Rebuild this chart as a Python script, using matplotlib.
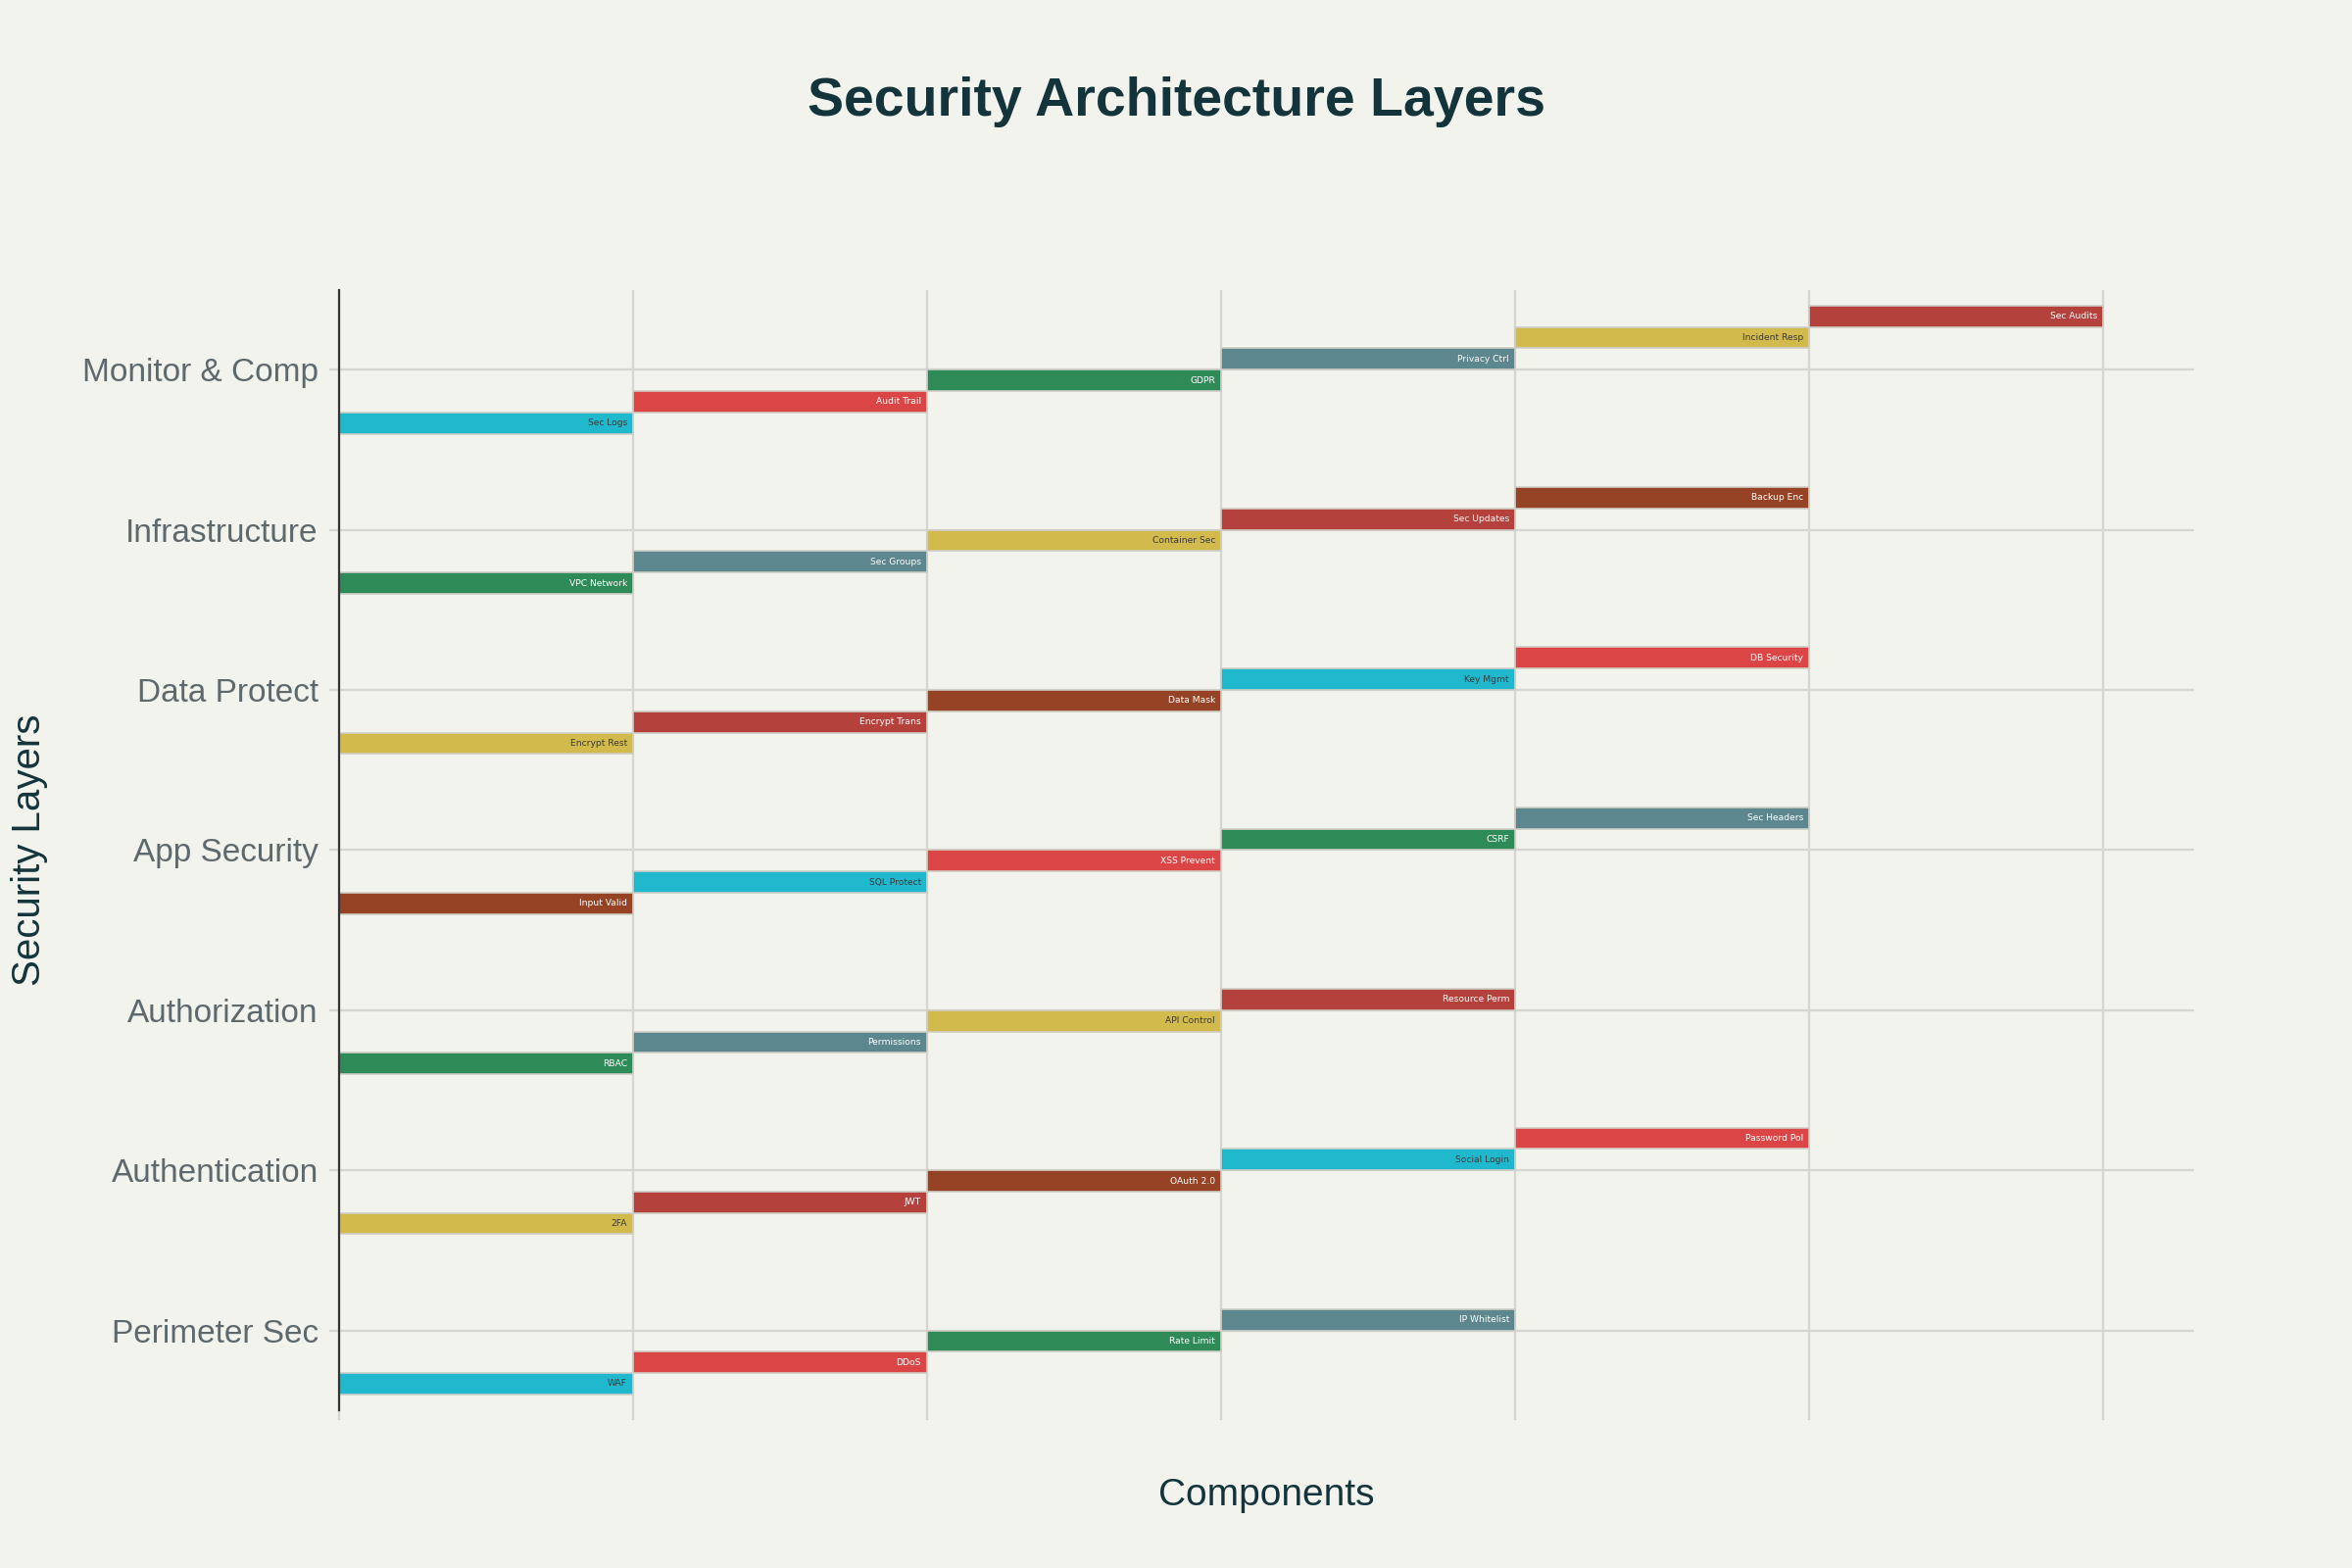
import matplotlib
matplotlib.use("Agg")
import matplotlib.pyplot as plt

# layers bottom -> top, components in order left -> right
layers = ["Perimeter Sec", "Authentication", "Authorization", "App Security",
          "Data Protect", "Infrastructure", "Monitor & Comp"]

components = [
    ["WAF", "DDoS", "Rate Limit", "IP Whitelist"],
    ["2FA", "JWT", "OAuth 2.0", "Social Login", "Password Pol"],
    ["RBAC", "Permissions", "API Control", "Resource Perm"],
    ["Input Valid", "SQL Protect", "XSS Prevent", "CSRF", "Sec Headers"],
    ["Encrypt Rest", "Encrypt Trans", "Data Mask", "Key Mgmt", "DB Security"],
    ["VPC Network", "Sec Groups", "Container Sec", "Sec Updates", "Backup Enc"],
    ["Sec Logs", "Audit Trail", "GDPR", "Privacy Ctrl", "Incident Resp", "Sec Audits"],
]

palette = ["#1FB8CD", "#DB4545", "#2E8B57", "#5D878F", "#D2BA4C", "#B4413C", "#964325"]
dark_text = {"#1FB8CD", "#D2BA4C"}

BG = "#F3F3EE"
GRID = "#D6D6D0"

fig = plt.figure(figsize=(12, 8), dpi=200, facecolor=BG)
ax = fig.add_axes([0.1441, 0.1005, 0.933 - 0.1441, 0.8153 - 0.1005])
ax.set_facecolor(BG)

n_slots = max(len(c) for c in components)
h = 0.8 / n_slots
k = 0
for i, comps in enumerate(components):
    for j, name in enumerate(comps):
        col = palette[k % len(palette)]
        k += 1
        yc = i + (j - (n_slots - 1) / 2) * h
        ax.barh(yc, 1, left=j, height=h, color=col, edgecolor="#CFCEC6",
                linewidth=0.6, zorder=3)
        ax.text(j + 1 - 0.02, yc, name, ha="right", va="center", fontsize=3.3,
                color="#3a3a3a" if col in dark_text else "white",
                family="Liberation Sans Narrow", zorder=4)

ax.set_xlim(0, 6.31)
ax.set_ylim(-0.5, 6.5)
ax.set_xticks(range(0, 7))
ax.set_xticklabels([])
ax.set_yticks(range(len(layers)))
ax.set_yticklabels(layers, fontsize=12, color="#5E696E", family="Liberation Sans")
ax.tick_params(axis="y", length=3.6, width=0.8, color=GRID, pad=4)
ax.tick_params(axis="x", length=3.6, width=0.8, color=GRID, pad=2)
ax.grid(True, color=GRID, linewidth=0.8, zorder=0)
ax.set_axisbelow(True)

for s in ["top", "right", "bottom"]:
    ax.spines[s].set_visible(False)
ax.spines["left"].set_color("#333333")
ax.spines["left"].set_linewidth(0.8)
ax.spines["left"].set_zorder(5)

ax.set_xlabel("Components", fontsize=14, color="#13343B", family="Liberation Sans", labelpad=19)
ax.set_ylabel("Security Layers", fontsize=14.5, color="#13343B", family="Liberation Sans")
ax.yaxis.set_label_coords(-0.157, 0.5)

fig.text(0.5, 0.935, "Security Architecture Layers", ha="center", va="center",
         fontsize=20, fontweight="bold", color="#13343B", family="Liberation Sans")

fig.savefig("out.png", dpi=200, facecolor=BG)
